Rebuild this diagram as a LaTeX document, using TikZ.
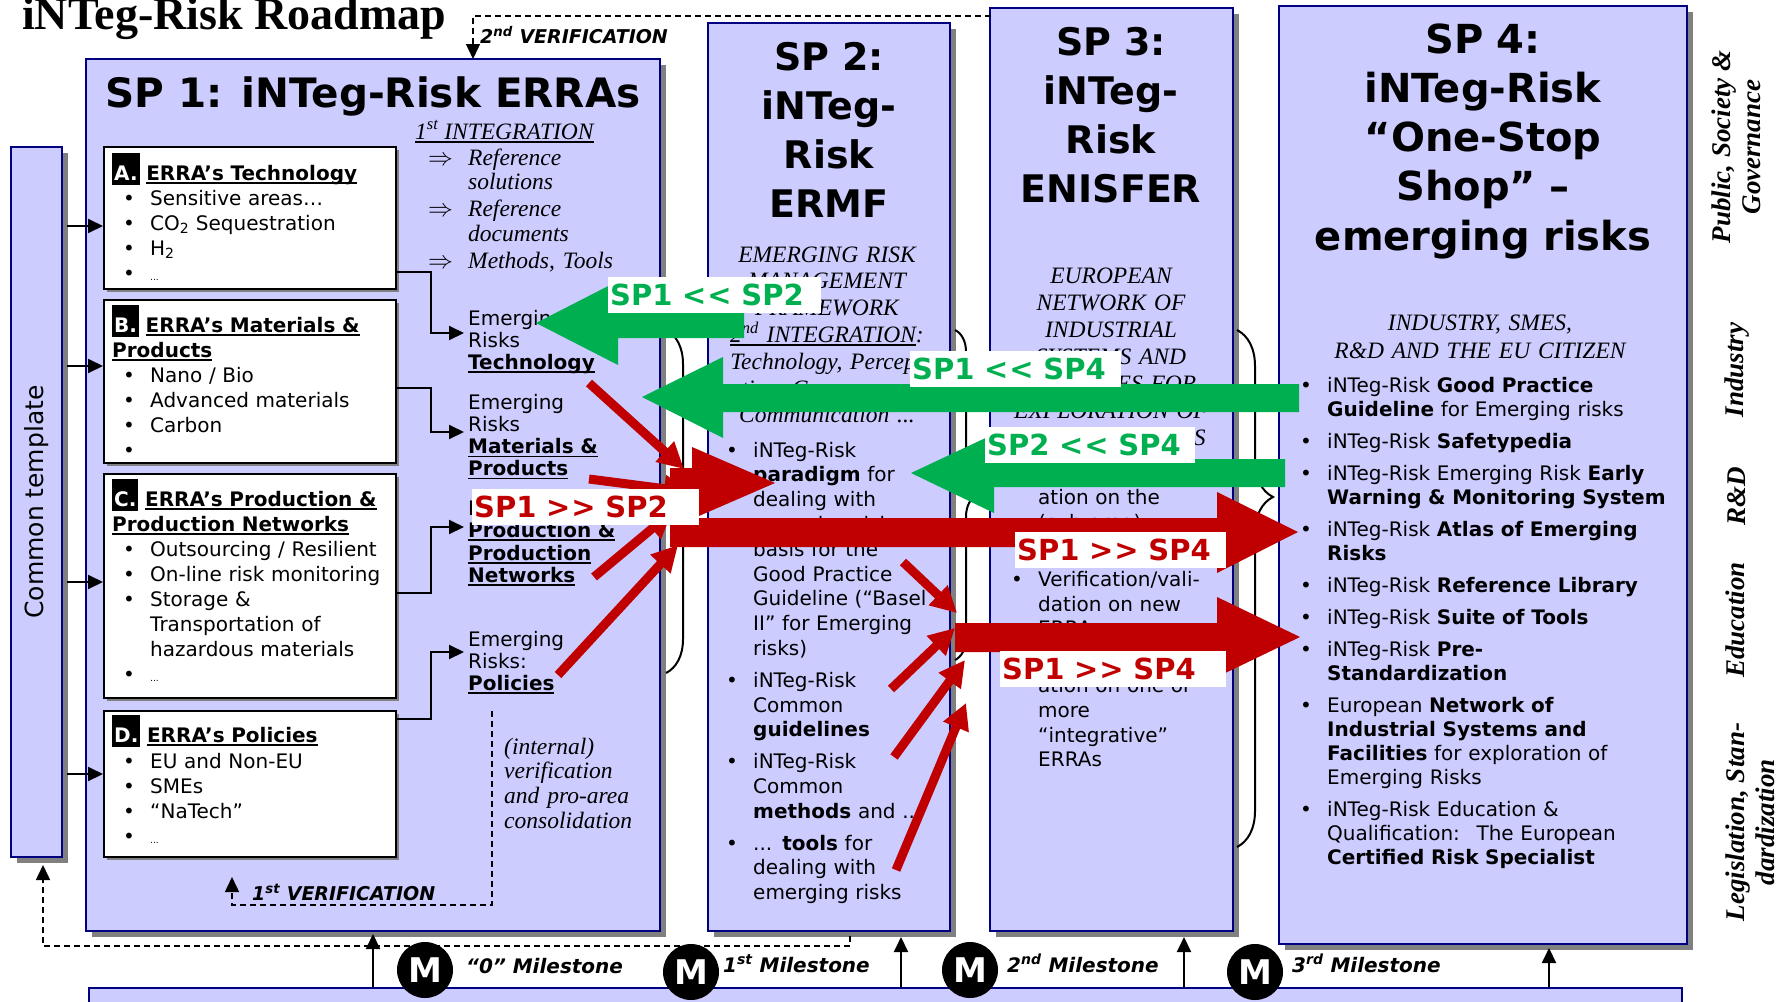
\documentclass[tikz,border=0pt]{standalone}
\usepackage{fontspec}
\setmainfont{DejaVu Sans}
\newfontfamily\tms{Liberation Serif}
\usetikzlibrary{arrows.meta,shadows,decorations.pathreplacing}
\definecolor{lav}{HTML}{CCCCFF}
\definecolor{navyb}{HTML}{000080}
\definecolor{shade}{HTML}{808080}
\definecolor{grn}{HTML}{00B050}
\definecolor{rd}{HTML}{C00000}
\newcommand{\fs}[2]{\fontsize{#1}{#2}\selectfont}
\newcommand{\bulf}{\hangindent=27pt\hangafter=1\noindent\makebox[27pt][l]{\textbullet}}
\newcommand{\bul}{\par\bulf}
\newcommand{\impf}{\hangindent=40pt\hangafter=1\noindent\makebox[40pt][l]{$\Rightarrow$}}
\newcommand{\imp}{\par\impf}
\newcommand{\lettag}[1]{{\setlength{\fboxsep}{2pt}\colorbox{black}{\rule[-3pt]{0pt}{28pt}\textcolor{white}{\bfseries #1}}}}
\newlength{\ulw}
\newcommand{\uln}[1]{\leavevmode\settowidth{\ulw}{#1}\rlap{\rule[-3.5pt]{\ulw}{1.6pt}}#1}
\tikzset{
  spbox/.style={draw=navyb,fill=lav,line width=2pt,inner sep=0pt,
    drop shadow={shadow xshift=6pt,shadow yshift=-6pt,opacity=1,fill=shade}},
  wbox/.style={draw=black,fill=white,line width=2pt,inner sep=0pt,
    drop shadow={shadow xshift=3pt,shadow yshift=-3pt,opacity=1,fill=shade}},
  conn/.style={line width=2pt,-{Triangle[length=15pt,width=14pt]}},
  vdash/.style={line width=1.5pt,dash pattern=on 6pt off 4pt,-{Triangle[length=15pt,width=14pt]}},
  txt/.style={inner sep=0pt,anchor=base west,font=\fs{20}{25}},
  ital/.style={inner sep=0pt,font=\tms\itshape\fs{23.5}{#1}},
  ital/.default=24.5,
  ttl/.style={inner sep=0pt,anchor=base,align=center,font=\bfseries\fs{38}{49.3}},
  sidelab/.style={inner sep=0pt,rotate=90,align=center,font=\tms\bfseries\itshape\fs{27}{30}},
  lab/.style={fill=white,inner xsep=2pt,inner ysep=6pt,text height=22pt,text depth=2pt,
    anchor=base west,font=\bfseries\fs{29}{30}},
  redarr/.style={draw=rd,line width=9pt,-{Triangle[length=26pt,width=26pt]}},
  mcirc/.style={circle,fill=black,minimum size=56pt,inner sep=0pt,text=white,font=\bfseries\fs{34}{34}},
  mile/.style={inner sep=0pt,anchor=base west,font=\bfseries\itshape\fs{20}{24}},
  brc/.style={decorate,decoration={brace,amplitude=#1,aspect=0.5},line width=2pt}
}
\begin{document}
\begin{tikzpicture}[x=1pt,y=-1pt]
\useasboundingbox (0,0) rectangle (1782,1001);
\node[inner sep=0pt,anchor=base west,font=\tms\bfseries\fs{46}{46}] (title) at (22,29) {iNTeg-Risk Roadmap};

% frames
\node[spbox,minimum width=51pt,minimum height=710pt] (tmpl) at (36.5,502) {};
\node[spbox,minimum width=574pt,minimum height=872pt] (sp1) at (373,495) {};
\node[spbox,minimum width=242pt,minimum height=908pt] (sp2) at (829,477) {};
\node[spbox,minimum width=243pt,minimum height=923pt] (sp3) at (1111.5,469.5) {};
\node[spbox,minimum width=408pt,minimum height=938pt] (sp4) at (1483,475) {};
\node[draw=navyb,fill=lav,line width=2pt,minimum width=1593pt,minimum height=42pt] (bar) at (885.5,1009) {};
\node[wbox,minimum width=292pt,minimum height=142pt] (boxA) at (250,218) {};
\node[wbox,minimum width=292pt,minimum height=163pt] (boxB) at (250,381.5) {};
\node[wbox,minimum width=292pt,minimum height=224pt] (boxC) at (250,586) {};
\node[wbox,minimum width=292pt,minimum height=146pt] (boxD) at (250,784) {};

\node[inner sep=0pt,rotate=90,font=\fs{25}{25}] (tmplT) at (37,502) {Common template};

% SP 1
\node[inner sep=0pt,anchor=base,font=\bfseries\fs{40.5}{44}] (sp1T) at (373,107) {SP 1: iNTeg-Risk ERRAs};
\node[ital,anchor=base west] (int1) at (415,139) {\uln{1\textsuperscript{st} INTEGRATION}};
\node[ital,anchor=base west,text width=230pt] (refs) at (428,165)
  {\setlength\parskip{2.5pt}\impf Reference\newline solutions \imp Reference\newline documents \imp Methods, Tools\par};

\node[txt,text width=280pt] (aHd) at (112,180) {\lettag{A.} \uln{\textbf{ERRA’s Technology}}};
\node[txt,text width=270pt] (aLst) at (123,205)
  {\bulf Sensitive areas… \bul CO\textsubscript{2} Sequestration \bul H\textsubscript{2} \bul {\fs{9}{9}...}\par};
\node[txt,text width=280pt] (bHd) at (112,332) {\lettag{B.} \uln{\textbf{ERRA’s Materials \&}}\newline \uln{\textbf{Products}}};
\node[txt,text width=270pt] (bLst) at (123,382)
  {\bulf Nano / Bio \bul Advanced materials \bul Carbon \bul\par};
\node[txt,text width=280pt] (cHd) at (112,506) {\lettag{C.} \uln{\textbf{ERRA’s Production \&}}\newline \uln{\textbf{Production Networks}}};
\node[txt,text width=270pt] (cLst) at (123,556)
  {\bulf Outsourcing / Resilient \bul On-line risk monitoring \bul Storage \&\newline Transportation of\newline hazardous materials \bul {\fs{9}{9}...}\par};
\node[txt,text width=280pt] (dHd) at (112,742) {\lettag{D.} \uln{\textbf{ERRA’s Policies}}};
\node[txt,text width=270pt] (dLst) at (123,768)
  {\bulf EU and Non-EU \bul SMEs \bul “NaTech” \bul {\fs{9}{9}...}\par};

\node[txt,font=\fs{20}{22},text width=180pt] (erTech) at (468,325) {Emerging\newline Risks\newline \uln{\textbf{Technology}}};
\node[txt,font=\fs{20}{22.3},text width=180pt] (erMat) at (468,409) {Emerging\newline Risks\newline \uln{\textbf{Materials \&}}\newline \uln{\textbf{Products}}};
\node[txt,font=\fs{20}{22.5},text width=180pt] (erProd) at (468,515) {Emerging Risks\newline \uln{\textbf{Production \&}}\newline \uln{\textbf{Production}}\newline \uln{\textbf{Networks}}};
\node[txt,font=\fs{20}{22},text width=180pt] (erPol) at (468,646) {Emerging\newline Risks:\newline \uln{\textbf{Policies}}};

\node[ital=24.7,anchor=base west,text width=150pt] (intv) at (504,754) {(internal)\newline verification\newline and pro-area\newline consolidation};
\node[mile,font=\bfseries\itshape\fs{19}{24}] (ver1) at (252,900) {1\textsuperscript{st} VERIFICATION};
\node[mile,font=\bfseries\itshape\fs{19}{24}] (ver2) at (480,43) {2\textsuperscript{nd} VERIFICATION};

% SP 2
\node[ttl,text width=240pt] (sp2T) at (829,70) {SP 2:\\iNTeg-\\Risk\\ERMF};
\node[ital=26.8,anchor=base,align=center,text width=240pt] (sp2S) at (827,262)
  {EMERGING RISK\\MANAGEMENT\\FRAMEWORK\\\uln{2\textsuperscript{nd} INTEGRATION}:\\Technology, Percep-\\tion, Governance,\\Communication ...};
\node[txt,font=\fs{20}{24.8},text width=222pt] (sp2L) at (726,457)
  {\setlength\parskip{7pt}\bulf iNTeg-Risk\newline \textbf{paradigm} for\newline dealing with\newline emerging risks as\newline basis for the\newline Good Practice\newline Guideline (“Basel\newline II” for Emerging\newline risks)
   \bul iNTeg-Risk\newline Common\newline \textbf{guidelines}
   \bul iNTeg-Risk\newline Common\newline \textbf{methods} and ...
   \bul ... \textbf{tools} for\newline dealing with\newline emerging risks\par};

% SP 3
\node[ttl,text width=240pt] (sp3T) at (1111,55) {SP 3:\\iNTeg-\\Risk\\ENISFER};
\node[ital=27,anchor=base,align=center,text width=240pt] (sp3S) at (1111,283)
  {EUROPEAN\\NETWORK OF\\INDUSTRIAL\\SYSTEMS AND\\FACILITIES FOR\\EXPLORATION OF\\EMERGING RISKS};
\node[txt,font=\fs{20}{24.8},text width=218pt] (sp3L) at (1011,480)
  {\setlength\parskip{7pt}\bulf Verification/valid-\newline ation on the\newline (sub-area)\newline ERRAs
   \bul Verification/vali-\newline dation on new\newline ERRAs
   \bul Verification/valid-\newline ation on one or\newline more\newline “integrative”\newline ERRAs\par};

% SP 4
\node[ttl,font=\bfseries\fs{40}{49.3},text width=400pt] (sp4T) at (1483,53) {SP 4:\\iNTeg-Risk\\“One-Stop\\Shop” –\\emerging risks};
\node[ital=28,anchor=base,align=center,text width=400pt] (sp4S) at (1480,330) {INDUSTRY, SMES,\\R\&D AND THE EU CITIZEN};
\node[txt,font=\fs{20}{24},text width=385pt] (sp4L) at (1300,392)
  {\setlength\parskip{8pt}\bulf iNTeg-Risk \textbf{Good Practice}\newline \textbf{Guideline} for Emerging risks
   \bul iNTeg-Risk \textbf{Safetypedia}
   \bul iNTeg-Risk Emerging Risk \textbf{Early}\newline \textbf{Warning \& Monitoring System}
   \bul iNTeg-Risk \textbf{Atlas of Emerging}\newline \textbf{Risks}
   \bul iNTeg-Risk \textbf{Reference Library}
   \bul iNTeg-Risk \textbf{Suite of Tools}
   \bul iNTeg-Risk \textbf{Pre-}\newline \textbf{Standardization}
   \bul European \textbf{Network of}\newline \textbf{Industrial Systems and}\newline \textbf{Facilities} for exploration of\newline Emerging Risks
   \bul iNTeg-Risk Education \&\newline Qualification:~ The European\newline \textbf{Certified Risk Specialist}\par};

\node[sidelab] (sPub) at (1736,147) {Public, Society \&\\Governance};
\node[sidelab] (sInd) at (1737,370) {Industry};
\node[sidelab] (sRD) at (1737,496) {R\&D};
\node[sidelab] (sEdu) at (1735,620) {Education};
\node[sidelab] (sLeg) at (1750,822) {Legislation, Stan-\\dardization};

% connectors
\foreach \n/\yy in {A/226,B/366,C/582,D/774}{
  \coordinate (t\n) at (67,\yy);
  \draw[conn] (t\n) -- (t\n -| box\n.west);
}
\foreach \n/\ya/\yb in {A/272/333,B/388/432,C/593/527,D/719/652}{
  \coordinate (o\n) at (396,\ya);
  \coordinate (i\n) at (464,\yb);
  \draw[conn] (o\n) -- ++(35,0) |- (i\n);
}
\foreach \n/\xx/\yy in {1/373/934,2/901/937,3/1184/937,4/1549/948}{
  \coordinate (u\n) at (\xx,\yy);
  \draw[conn] (u\n |- bar.north) -- (u\n);
}
\coordinate (v2s) at (991,16);  \coordinate (v2e) at (473,59);
\draw[vdash] (v2s) -| (v2e);
\coordinate (v1s) at (492,711); \coordinate (v1e) at (232,877);
\draw[vdash] (v1s) -- ++(0,194) -| (v1e);
\coordinate (v0s) at (850,936); \coordinate (v0e) at (43,865);
\draw[vdash] (v0s) -- ++(0,10) -| (v0e);

% braces
\draw[brc=34pt] (666,330) -- (666,673);
\draw[brc=22pt] (955,330) -- (955,660);
\draw[brc=36pt,decoration={aspect=0.323}] (1237,330) -- (1237,847);

% feedback arrows
\fill[grn] (536,323) -- (618,281) -- (618,308) -- (744,308) -- (744,338) -- (618,338) -- (618,365) -- cycle;
\fill[grn] (642,397) -- (723,357) -- (723,384) -- (1299,384) -- (1299,412) -- (723,412) -- (723,438) -- cycle;
\fill[grn] (911,473) -- (994,434) -- (994,459) -- (1285,459) -- (1285,487) -- (994,487) -- (994,513) -- cycle;
\fill[rd] (670,468) -- (692,468) -- (692,447) -- (775,483) -- (692,519) -- (692,497) -- (670,497) -- cycle;
\fill[rd] (670,518) -- (1217,518) -- (1217,492) -- (1298,532) -- (1217,573) -- (1217,547) -- (670,547) -- cycle;
\fill[rd] (955,623) -- (1217,623) -- (1217,597) -- (1300,637) -- (1217,677) -- (1217,652) -- (955,652) -- cycle;
\foreach \n/\xa/\ya/\xb/\yb in {1/589/383/684/469,2/589/479/690/492,3/594/577/672/512,4/558/675/678/545,
  5/903/562/957/613,6/891/689/955/628,7/894/757/965/660,8/896/870/966/703}{
  \coordinate (rs\n) at (\xa,\ya);
  \coordinate (re\n) at (\xb,\yb);
  \draw[redarr] (rs\n) -- (re\n);
}
\node[lab,text=grn,text width=209pt] (l12) at (608,305) {SP1 <\kern1pt< SP2};
\node[lab,text=grn,text width=207pt] (l14) at (910,379) {SP1 <\kern1pt< SP4};
\node[lab,text=grn,text width=206pt] (l24) at (985,455) {SP2 <\kern1pt< SP4};
\node[lab,text=rd,text width=223pt] (r12) at (472,517) {SP1 >\kern1pt> SP2};
\node[lab,text=rd,text width=207pt] (r14a) at (1015,560) {SP1 >\kern1pt> SP4};
\node[lab,text=rd,text width=222pt] (r14b) at (1000,679) {SP1 >\kern1pt> SP4};

% milestones
\foreach \n/\xx/\yy in {0/425/970,1/691/972,2/970/970,3/1255/972}
  \node[mcirc] (m\n) at (\xx,\yy) {M};
\node[mile] (ms0) at (466,973) {“0” Milestone};
\node[mile] (ms1) at (723,972) {1\textsuperscript{st} Milestone};
\node[mile] (ms2) at (1007,972) {2\textsuperscript{nd} Milestone};
\node[mile] (ms3) at (1292,972) {3\textsuperscript{rd} Milestone};
\end{tikzpicture}
\end{document}
